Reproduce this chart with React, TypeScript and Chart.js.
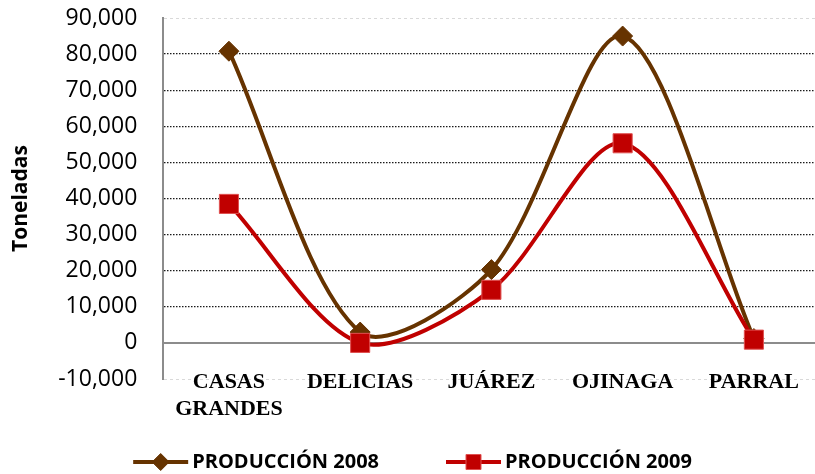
import React, { useEffect, useRef } from "react";
import { Chart, registerables } from "chart.js";

Chart.register(...registerables);

// ---- data ----
const categories: (string | string[])[] = [["CASAS", "GRANDES"], "DELICIAS", "JUÁREZ", "OJINAGA", "PARRAL"];
const produccion2008 = [80800, 3000, 20300, 85000, 1200];
const produccion2009 = [38500, 0, 14700, 55300, 900];
const seriesLabels = ["PRODUCCIÓN 2008", "PRODUCCIÓN 2009"];
const yTitle = "Toneladas";
const yMin = -10000;
const yMax = 90000;
const yStep = 10000;

const BROWN = "#663300";
const RED = "#C00000";
const SANS = "'Open Sans', 'Noto Sans', sans-serif";
const SERIF = "'Liberation Serif', 'DejaVu Serif', serif";
const VIEW_W = 815;
const VIEW_H = 474;
const CANVAS_W = 834;

function drawMarker(ctx: CanvasRenderingContext2D, kind: string, x: number, y: number, r: number, fill: string, stroke: string) {
  ctx.save();
  ctx.fillStyle = fill;
  ctx.strokeStyle = stroke;
  ctx.lineWidth = 1;
  ctx.beginPath();
  if (kind === "diamond") {
    ctx.moveTo(x, y - r);
    ctx.lineTo(x + r, y);
    ctx.lineTo(x, y + r);
    ctx.lineTo(x - r, y);
    ctx.closePath();
  } else {
    ctx.rect(x - r, y - r, 2 * r, 2 * r);
  }
  ctx.fill();
  ctx.stroke();
  ctx.restore();
}

// category labels, drawn at the x scale's tick pixels (they overlap the plot bottom like the original)
const categoryLabels = {
  id: "categoryLabels",
  afterDraw(chart: any) {
    const ctx: CanvasRenderingContext2D = chart.ctx;
    const xs = chart.scales.x;
    const base = chart.chartArea.bottom + 9;
    ctx.save();
    ctx.font = `bold 22px ${SERIF}`;
    ctx.fillStyle = "#000";
    ctx.textAlign = "center";
    ctx.textBaseline = "alphabetic";
    (chart.data.labels as any[]).forEach((lab, i) => {
      const lines = Array.isArray(lab) ? lab : [lab];
      const x = xs.getPixelForTick(i);
      lines.forEach((t: string, j: number) => ctx.fillText(t, x, base + j * 27));
    });
    ctx.restore();
  },
};

const lineLegend = {
  id: "lineLegend",
  afterDraw(chart: any) {
    const ctx: CanvasRenderingContext2D = chart.ctx;
    const ds = chart.data.datasets;
    const iconW = 55;
    const gap = 4;
    const itemGap = 67;
    const cy = 462;
    ctx.save();
    ctx.font = `bold 20px ${SANS}`;
    const widths = ds.map((d: any) => ctx.measureText(d.label).width);
    const total = widths.reduce((a: number, w: number) => a + iconW + gap + w, 0) + itemGap * (ds.length - 1);
    let x = VIEW_W / 2 + 5 - total / 2;
    ds.forEach((d: any, i: number) => {
      ctx.strokeStyle = d.borderColor;
      ctx.lineWidth = 4;
      ctx.beginPath();
      ctx.moveTo(x, cy);
      ctx.lineTo(x + iconW, cy);
      ctx.stroke();
      drawMarker(ctx, i === 0 ? "diamond" : "square", x + iconW / 2, cy, i === 0 ? 8.5 : 7.5, d.pointBackgroundColor, d.pointBorderColor);
      ctx.fillStyle = "#000";
      ctx.textBaseline = "middle";
      ctx.textAlign = "left";
      ctx.fillText(d.label, x + iconW + gap, cy);
      x += iconW + gap + widths[i] + itemGap;
    });
    ctx.restore();
  },
};

export default function App() {
  const ref = useRef<HTMLCanvasElement | null>(null);

  useEffect(() => {
    if (!ref.current) return;
    const chart = new Chart(ref.current, {
      type: "line",
      data: {
        labels: categories,
        datasets: [
          {
            label: seriesLabels[0],
            data: produccion2008,
            borderColor: BROWN,
            backgroundColor: BROWN,
            borderWidth: 4,
            tension: 0.3,
            pointStyle: "rectRot",
            pointRadius: 10,
            pointHoverRadius: 10,
            pointBackgroundColor: BROWN,
            pointBorderColor: BROWN,
            pointBorderWidth: 1,
            order: 1,
          },
          {
            label: seriesLabels[1],
            data: produccion2009,
            borderColor: RED,
            backgroundColor: RED,
            borderWidth: 4,
            tension: 0.3,
            pointStyle: "rect",
            pointRadius: 13.5,
            pointHoverRadius: 13.5,
            pointBackgroundColor: RED,
            pointBorderColor: "#e05050",
            pointBorderWidth: 1,
            order: 0,
          },
        ],
      },
      options: {
        animation: false,
        responsive: false,
        maintainAspectRatio: false,
        layout: { padding: { left: 8, top: 18, right: 0, bottom: 95 } },
        plugins: {
          legend: { display: false },
          tooltip: { enabled: false },
        },
        scales: {
          x: {
            offset: true,
            grid: { display: false, drawTicks: false },
            border: { display: false },
            ticks: { display: false, autoSkip: false },
          },
          y: {
            min: yMin,
            max: yMax,
            ticks: {
              stepSize: yStep,
              color: "#000",
              font: { family: SANS, size: 23 },
              padding: 0,
              callback: (v: any) => Number(v).toLocaleString("en-US"),
            },
            grid: {
              drawTicks: true,
              tickLength: 26,
              tickColor: "rgba(0,0,0,0)",
              color: (c: any) => {
                const v = c.tick?.value;
                if (v === 0) return "#8c8c8c";
                if (v === yMin || v === yMax) return "#d9d9d9";
                return "#1a1a1a";
              },
              lineWidth: (c: any) => {
                const v = c.tick?.value;
                if (v === 0) return 2;
                if (v === yMin || v === yMax) return 1;
                return 1.3;
              },
            },
            border: {
              display: true,
              color: "#8c8c8c",
              width: 2,
              dash: (c: any) => {
                const v = c.tick?.value;
                if (v === undefined || v === 0) return [];
                if (v === yMin || v === yMax) return [3, 3];
                return [1.5, 1.5];
              },
            },
            title: {
              display: true,
              text: yTitle,
              color: "#000",
              font: { family: SANS, size: 21, weight: "bold" },
              padding: { top: 0, bottom: 25 },
            },
          },
        },
      },
      plugins: [categoryLabels, lineLegend],
    } as any);
    return () => chart.destroy();
  }, []);

  return (
    <div style={{ position: "fixed", left: 0, top: 0, width: VIEW_W, height: VIEW_H, overflow: "hidden", background: "#fff" }}>
      <canvas ref={ref} width={CANVAS_W} height={VIEW_H} style={{ width: CANVAS_W, height: VIEW_H, display: "block" }} />
    </div>
  );
}
